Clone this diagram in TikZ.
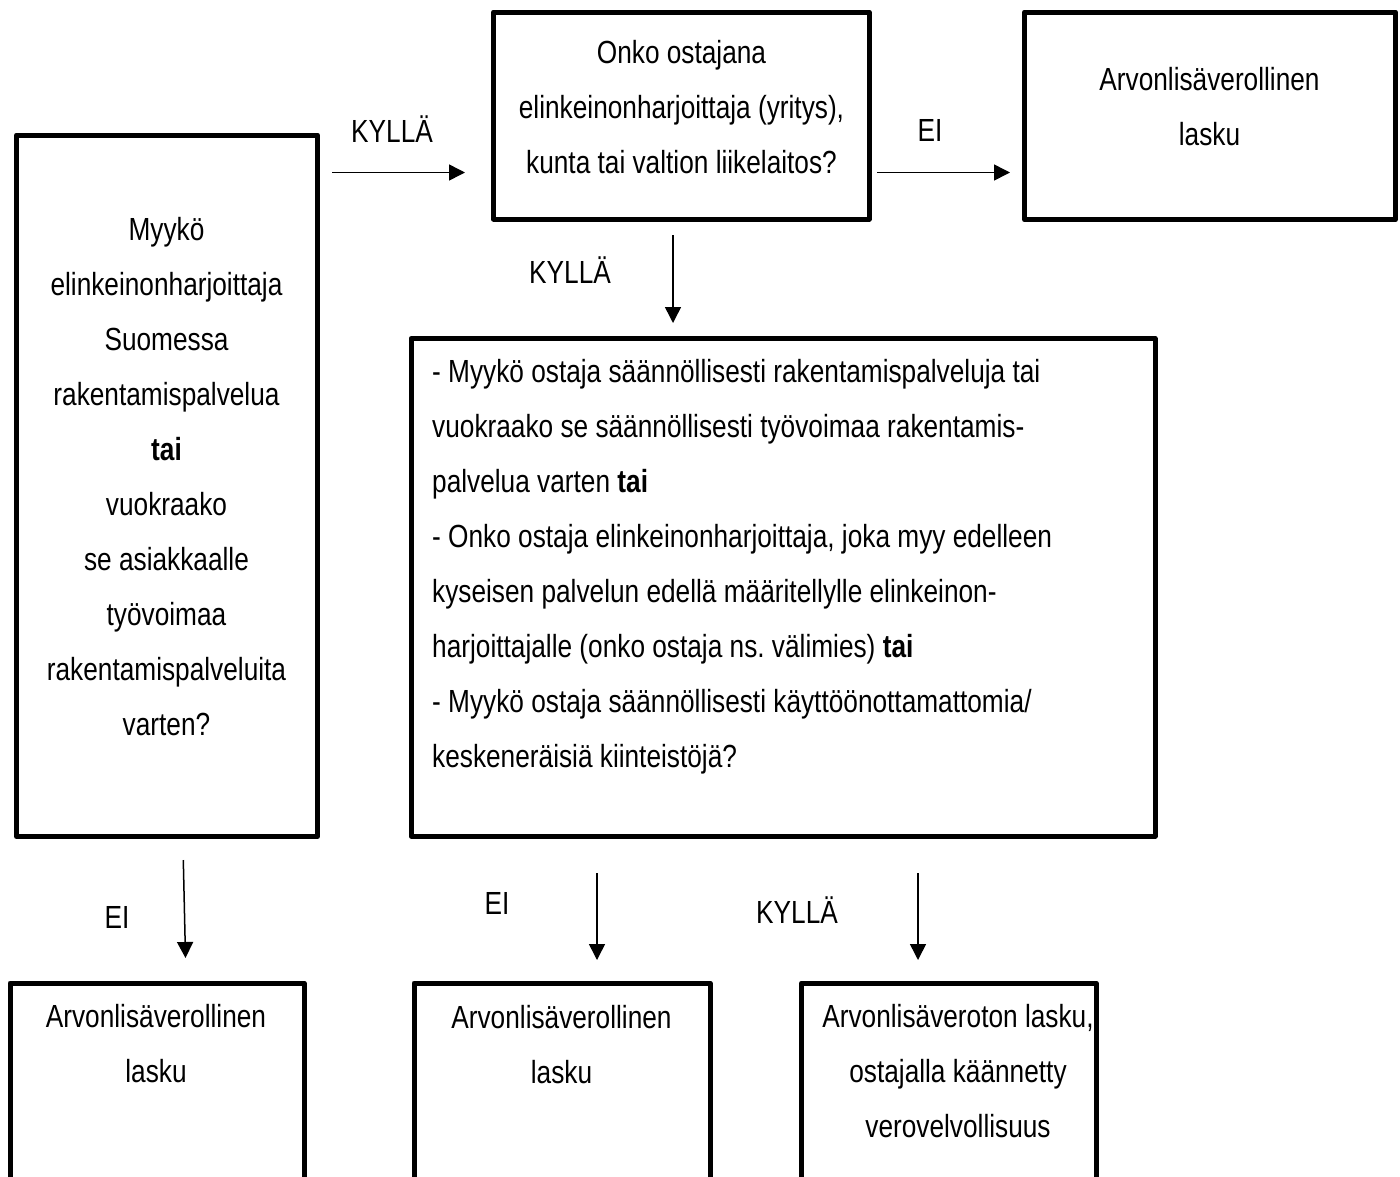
\documentclass[tikz,border=0pt]{standalone}
\usepackage{fontspec}
\setmainfont{Liberation Sans}[FakeStretch=0.82]
\usetikzlibrary{arrows.meta}
\tikzset{
  boxnode/.style={draw, line width=5pt, line join=round, inner sep=0pt, fill=none},
  txt/.style={inner sep=0pt, align=center, font=\fontsize{32}{55}\selectfont},
  lbl/.style={inner sep=0pt, font=\fontsize{32}{38}\selectfont},
  arr/.style={line width=1.5pt, -{Triangle[length=16pt,width=16pt]}}
}
\begin{document}
\begin{tikzpicture}[x=1pt,y=-1pt]
\useasboundingbox (0,0) rectangle (1400,1176);
\clip (0,0) rectangle (1400,1176);
\fill[white] (0,0) rectangle (1400,1176);

% boxes
\node[boxnode, minimum width=301pt, minimum height=701.5pt] (left) at (167,485.75) {};
\node[boxnode, minimum width=375.5pt, minimum height=207pt] (q1) at (681.25,115.5) {};
\node[boxnode, minimum width=371pt, minimum height=207.7pt] (r1) at (1210,115.85) {};
\node[boxnode, minimum width=744pt, minimum height=497.5pt] (q2) at (783,587.25) {};
\node[boxnode, minimum width=294pt, minimum height=247pt] (r2) at (157,1106.5) {};
\node[boxnode, minimum width=296pt, minimum height=247pt] (r3) at (562,1106.5) {};
\node[boxnode, minimum width=294.5pt, minimum height=247pt] (r4) at (948.75,1106.5) {};

% texts
\node[txt] (tleft) at (166.5,477) {Myykö\\elinkeinonharjoittaja\\Suomessa\\rakentamispalvelua\\\textbf{tai}\\vuokraako\\se asiakkaalle\\työvoimaa\\rakentamispalveluita\\varten?};
\node[txt] (tq1) at (681.5,107) {Onko ostajana\\elinkeinonharjoittaja (yritys),\\kunta tai valtion liikelaitos?};
\node[txt] (tr1) at (1209.5,107) {Arvonlisäverollinen\\lasku};
\node[txt, align=left, anchor=west] (tq2) at (432,566.5) {- Myykö ostaja säännöllisesti rakentamispalveluja tai\\vuokraako se säännöllisesti työvoimaa rakentamis-\\palvelua varten \textbf{tai}\\- Onko ostaja elinkeinonharjoittaja, joka myy edelleen\\kyseisen palvelun edellä määritellylle elinkeinon-\\harjoittajalle (onko ostaja ns.\ välimies) \textbf{tai}\\- Myykö ostaja säännöllisesti käyttöönottamattomia/\\keskeneräisiä kiinteistöjä?};
\node[txt] (tr2) at (156,1044) {Arvonlisäverollinen\\lasku};
\node[txt] (tr3) at (561.5,1045) {Arvonlisäverollinen\\lasku};
\node[txt] (tr4) at (958,1071) {Arvonlisäveroton lasku,\\ostajalla käännetty\\verovelvollisuus};

% arrow end points
\coordinate (a1s) at (332,172.5);
\coordinate (a1e) at (465,172.5);
\coordinate (a2s) at (877,172.5);
\coordinate (a2e) at (1010,172.5);
\coordinate (a3s) at (673,235);
\coordinate (a3e) at (673,323);
\coordinate (a4s) at (183.3,860);
\coordinate (a4e) at (185.5,958);
\coordinate (a5s) at (597,873);
\coordinate (a5e) at (597,960);
\coordinate (a6s) at (918,873);
\coordinate (a6e) at (918,960);

\draw[arr] (a1s) -- (a1e);
\draw[arr] (a2s) -- (a2e);
\draw[arr] (a3s) -- (a3e);
\draw[arr] (a4s) -- (a4e);
\draw[arr] (a5s) -- (a5e);
\draw[arr] (a6s) -- (a6e);

% labels
\node[lbl] (l1) at (392,129) {KYLLÄ};
\node[lbl] (l2) at (930,130) {EI};
\node[lbl] (l3) at (570,270) {KYLLÄ};
\node[lbl] (l4) at (117,917) {EI};
\node[lbl] (l5) at (497,903) {EI};
\node[lbl] (l6) at (797,910) {KYLLÄ};
\end{tikzpicture}
\end{document}
